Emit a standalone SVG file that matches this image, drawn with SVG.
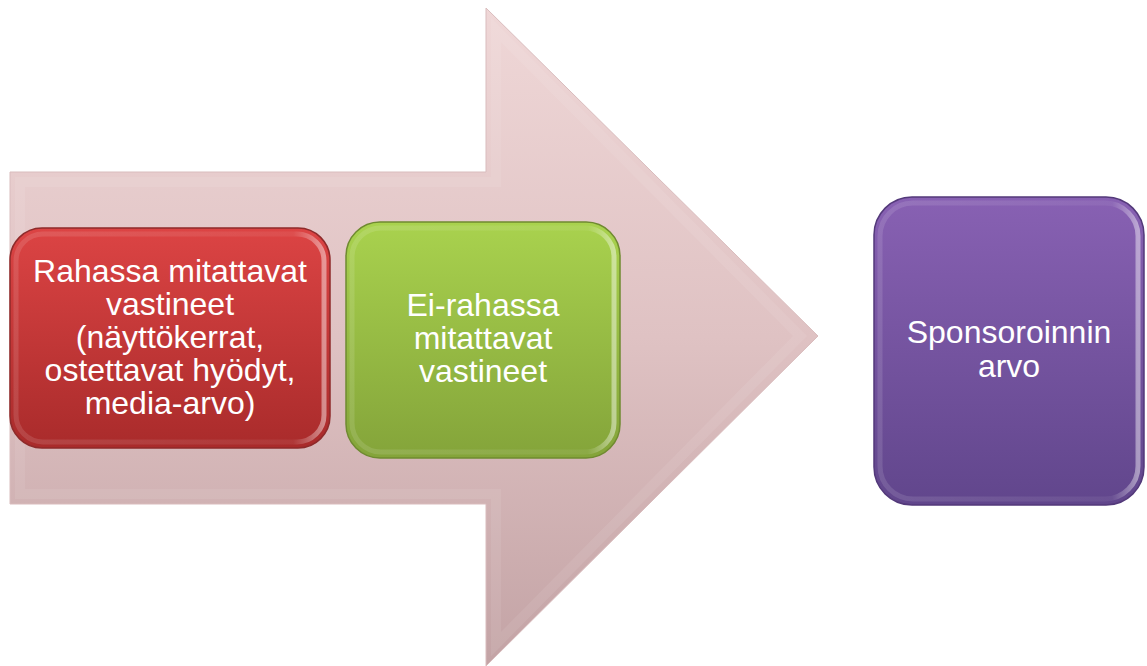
<svg xmlns="http://www.w3.org/2000/svg" width="1147" height="666" viewBox="0 0 1147 666">
<defs>
<linearGradient id="gArrow" x1="0" y1="0" x2="0" y2="1">
<stop offset="0" stop-color="#efd7d7"/><stop offset="0.5" stop-color="#dfc2c3"/><stop offset="1" stop-color="#c3a3a5"/>
</linearGradient>
<linearGradient id="gRed" x1="0" y1="0" x2="0" y2="1">
<stop offset="0" stop-color="#dc4444"/><stop offset="1" stop-color="#a92b2b"/>
</linearGradient>
<linearGradient id="gGreen" x1="0" y1="0" x2="0" y2="1">
<stop offset="0" stop-color="#a9d24e"/><stop offset="1" stop-color="#84a43a"/>
</linearGradient>
<linearGradient id="gPurple" x1="0" y1="0" x2="0" y2="1">
<stop offset="0" stop-color="#8861b3"/><stop offset="1" stop-color="#61468c"/>
</linearGradient>
<linearGradient id="gHi" x1="0" y1="0" x2="1" y2="0">
<stop offset="0" stop-color="#fff" stop-opacity="0.12"/><stop offset="0.9" stop-color="#fff" stop-opacity="0.06"/><stop offset="1" stop-color="#fff" stop-opacity="0.45"/>
</linearGradient>
</defs>
<style>
.lbl{font-family:"Liberation Sans",Arial,sans-serif;font-size:32px;fill:#ffffff;text-anchor:middle}
.bevel{fill:none;stroke:url(#gHi);stroke-width:5}
</style>
<rect width="1147" height="666" fill="#ffffff"/>
<g id="arrow">
<path d="M10,172 L486,172 L486,8 L818,336 L486,666 L486,504 L10,504 Z" fill="url(#gArrow)" stroke="#d9bcbd" stroke-width="1"/>
<path d="M20,182 L496,182 L496,30 L800,336 L496,644 L496,494 L20,494 Z" fill="none" stroke="#ffffff" stroke-opacity="0.08" stroke-width="10"/>
</g>
<g id="node-red">
<rect x="10" y="228" width="320" height="220" rx="32" fill="url(#gRed)" stroke="#8e2a2a" stroke-width="1.5"/>
<rect x="16" y="234" width="308" height="208" rx="27" class="bevel"/>
<text class="lbl" x="170" y="282">Rahassa mitattavat</text>
<text class="lbl" x="170" y="315">vastineet</text>
<text class="lbl" x="170" y="348">(näyttökerrat,</text>
<text class="lbl" x="170" y="381">ostettavat hyödyt,</text>
<text class="lbl" x="170" y="414">media-arvo)</text>
</g>
<g id="node-green">
<rect x="346" y="222" width="274" height="236" rx="34" fill="url(#gGreen)" stroke="#6f8a30" stroke-width="1.5"/>
<rect x="352" y="228" width="262" height="224" rx="29" class="bevel"/>
<text class="lbl" x="483" y="316">Ei-rahassa</text>
<text class="lbl" x="483" y="349">mitattavat</text>
<text class="lbl" x="483" y="382">vastineet</text>
</g>
<g id="node-purple">
<rect x="874" y="197" width="270" height="308" rx="38" fill="url(#gPurple)" stroke="#53397a" stroke-width="1.5"/>
<rect x="880" y="203" width="258" height="296" rx="33" class="bevel"/>
<text class="lbl" x="1009" y="343">Sponsoroinnin</text>
<text class="lbl" x="1009" y="377">arvo</text>
</g>
<g id="connectors"></g>
</svg>
